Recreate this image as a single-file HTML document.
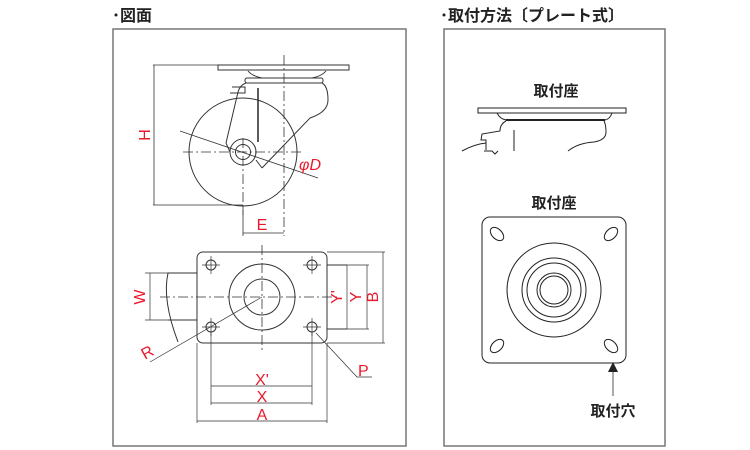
<!DOCTYPE html>
<html><head><meta charset="utf-8"><style>
html,body{margin:0;padding:0;background:#fff;}
svg{display:block}
text{font-family:"Liberation Sans","Noto Sans CJK JP",sans-serif;}
</style></head><body>
<svg width="750" height="450" viewBox="0 0 750 450" xmlns="http://www.w3.org/2000/svg">
<g fill="none" stroke="#777" stroke-width="1.5">
<rect x="113" y="29" width="293" height="417"/>
<rect x="444" y="29" width="221" height="417"/>
</g>
<text x="112" y="21" font-size="16" font-weight="bold" fill="#222">･図面</text>
<text x="440" y="21" font-size="16" font-weight="bold" fill="#222">･取付方法〔プレート式〕</text>

<!-- side view -->
<g fill="none" stroke="#333" stroke-width="1">
<rect x="218" y="65" width="131" height="5" fill="#fff"/>
<path d="M248 71 Q252 76 262 78 L312 78 Q322 76 326 71"/>
<rect x="245" y="78" width="78" height="5" rx="2"/>
<path d="M246 83 Q240 85 238 92 L226 143 M232 87 L245 87 L245 93 L230 93 M322 83 Q328 86 328 100 Q328 112 310 118 L262 168"/>
<line x1="258" y1="88" x2="258" y2="142" stroke-width="1.6"/>
<circle cx="243" cy="152" r="54"/>
<circle cx="243" cy="152" r="13" fill="#fff"/>
<circle cx="243" cy="152" r="7.5"/>
<path d="M230 152 L226 143 M256 160 L262 168"/>
</g>
<g stroke="#333" stroke-width="0.8" stroke-dasharray="10,3,2,3" fill="none">
<line x1="284" y1="55" x2="284" y2="236"/>
<line x1="183" y1="152" x2="303" y2="152"/>
<line x1="243" y1="138" x2="243" y2="215"/>
</g>
<g stroke="#333" stroke-width="0.8" fill="none">
<line x1="153" y1="65" x2="218" y2="65"/>
<line x1="153" y1="205" x2="243" y2="205"/>
<line x1="154" y1="65" x2="154" y2="205"/>
<line x1="243" y1="205" x2="243" y2="236"/>
<line x1="243" y1="233" x2="284" y2="233"/>
<line x1="180" y1="131" x2="318" y2="178"/>
</g>
<g fill="#e8192c" font-size="16">
<text x="146" y="135" transform="rotate(-90 146 135)" text-anchor="middle" dominant-baseline="middle">H</text>
<text x="262" y="230" text-anchor="middle">E</text>
<text x="299" y="170" font-style="italic">φD</text>
</g>

<!-- bottom view -->
<g fill="none" stroke="#333" stroke-width="1">
<rect x="197" y="252" width="130" height="91" rx="6"/>
<path d="M197 273 L168 273 Q162 300 178 342 M197 320 L168 320"/>
<circle cx="262" cy="297" r="33"/>
<circle cx="262" cy="297" r="18"/>
<path d="M327 265 L347 265 M327 329 L347 329"/>
<circle cx="211" cy="265" r="5"/><circle cx="312" cy="265" r="5"/>
<circle cx="211" cy="327" r="5"/><circle cx="312" cy="327" r="5"/>
</g>
<g stroke="#333" stroke-width="0.7" fill="none">
<path d="M202 265 H220 M211 256 V274 M303 265 H321 M312 256 V274 M202 327 H220 M211 318 V336 M303 327 H321 M312 318 V336"/>
<line x1="150" y1="273" x2="150" y2="320"/>
<line x1="145" y1="273" x2="168" y2="273"/><line x1="145" y1="320" x2="168" y2="320"/>
<line x1="347" y1="265" x2="347" y2="329"/>
<line x1="367" y1="265" x2="367" y2="329"/>
<line x1="327" y1="252" x2="385" y2="252"/><line x1="327" y1="343" x2="385" y2="343"/>
<line x1="347" y1="265" x2="369" y2="265"/><line x1="347" y1="329" x2="369" y2="329"/>
<line x1="383" y1="252" x2="383" y2="343"/>
<line x1="211" y1="332" x2="211" y2="405"/><line x1="312" y1="332" x2="312" y2="405"/>
<line x1="197" y1="343" x2="197" y2="423"/><line x1="327" y1="343" x2="327" y2="423"/>
<line x1="211" y1="386" x2="312" y2="386"/>
<line x1="211" y1="403" x2="312" y2="403"/>
<line x1="197" y1="421" x2="327" y2="421"/>
<line x1="150" y1="362" x2="262" y2="297"/>
<polyline points="316,333 357,377 372,377"/>
</g>
<g stroke="#333" stroke-width="0.8" stroke-dasharray="10,3,2,3">
<line x1="262" y1="245" x2="262" y2="350"/>
<line x1="160" y1="297" x2="340" y2="297"/>
</g>
<g fill="#e8192c" font-size="16">
<text x="141" y="297" transform="rotate(-90 141 297)" text-anchor="middle" dominant-baseline="middle">W</text>
<text x="338" y="297" transform="rotate(-90 338 297)" text-anchor="middle" dominant-baseline="middle">Y'</text>
<text x="357" y="297" transform="rotate(-90 357 297)" text-anchor="middle" dominant-baseline="middle">Y</text>
<text x="374" y="297" transform="rotate(-90 374 297)" text-anchor="middle" dominant-baseline="middle">B</text>
<text x="262" y="385" text-anchor="middle">X'</text>
<text x="262" y="402" text-anchor="middle">X</text>
<text x="262" y="420" text-anchor="middle">A</text>
<text x="150" y="357" transform="rotate(-30 150 357)" text-anchor="middle">R</text>
<text x="358" y="376">P</text>
</g>

<!-- right panel -->
<g fill="#222" font-size="15" font-weight="bold">
<text x="556" y="96" text-anchor="middle">取付座</text>
<text x="554" y="208" text-anchor="middle">取付座</text>
<text x="613" y="416" text-anchor="middle">取付穴</text>
</g>
<g fill="none" stroke="#222" stroke-width="1">
<rect x="478" y="108" width="148" height="5"/>
<path d="M497 113 Q500 119 506 120 L605 120 Q610 119 612 113"/>
<line x1="506" y1="120" x2="605" y2="120" stroke-width="2"/>
<path d="M506 121 Q500 124 500 131 L482 134 L481 140 L486 140 L486 150 M462 151 Q475 144 486 143 M514 130 V151 M484 151 H492 L495 154 L498 151 M604 121 Q606 125 606 132 Q606 140 594 142 Q578 143 568 151"/>
<rect x="482" y="217" width="144" height="146" rx="8"/>
<circle cx="554" cy="290" r="47"/>
<circle cx="554" cy="290" r="32"/>
<circle cx="554" cy="290" r="27"/>
<circle cx="554" cy="290" r="17"/>
<circle cx="554" cy="290" r="14"/>
<ellipse cx="497" cy="234" rx="8" ry="5" transform="rotate(45 497 234)"/>
<ellipse cx="611" cy="234" rx="8" ry="5" transform="rotate(-45 611 234)"/>
<ellipse cx="497" cy="346" rx="8" ry="5" transform="rotate(-45 497 346)"/>
<ellipse cx="611" cy="346" rx="8" ry="5" transform="rotate(45 611 346)"/>
<line x1="613" y1="370" x2="613" y2="396" stroke="#555"/>
</g>
<polygon points="613,362 608,372 618,372" fill="#222"/>
</svg>
</body></html>
